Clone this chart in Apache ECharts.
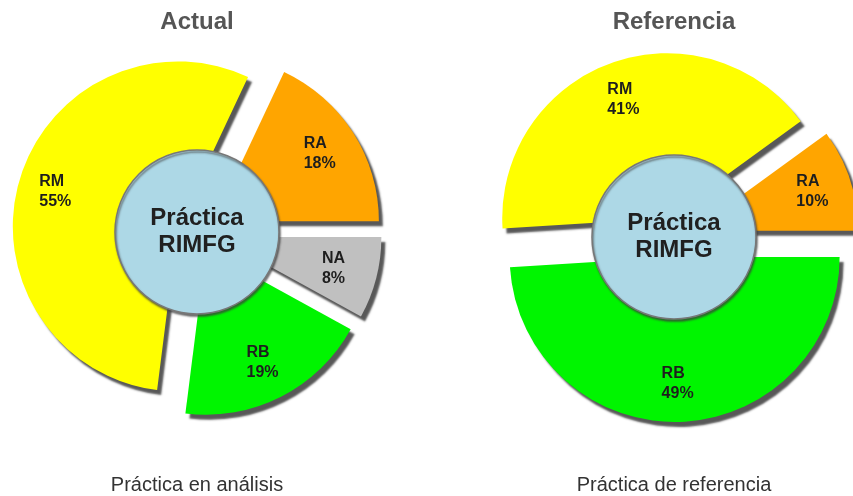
<!DOCTYPE html>
<html>
<head>
<meta charset="utf-8">
<script src="https://cdn.jsdelivr.net/npm/echarts@6/dist/echarts.min.js"></script>
<style>
  html, body { margin: 0; padding: 0; background: #fff; }
  #chart { width: 853px; height: 496px; }
</style>
</head>
<body>
<div id="chart"></div>
<script>
// data
var leftNames = ['RA', 'RM', 'RB', 'NA'];
var leftValues = [18, 55, 19, 8];
var rightNames = ['RA', 'RM', 'RB'];
var rightValues = [10, 41, 49];
var titles = ['Actual', 'Referencia'];
var captions = ['Práctica en análisis', 'Práctica de referencia'];
var centerText = 'Práctica\nRIMFG';

var sliceColors = {
  RA: '#ffa500',
  RM: '#ffff00',
  RB: '#00f500',
  NA: '#c0c0c0'
};

var font = '"Liberation Sans", Arial, sans-serif';

var shapeStyle = {
  borderWidth: 0,
  shadowColor: 'rgba(70, 70, 70, 0.9)',
  shadowBlur: 2,
  shadowOffsetX: 4,
  shadowOffsetY: 5
};

function buildData(names, values, withColor) {
  return names.map(function (n, i) {
    return {
      name: n,
      value: values[i],
      selected: true,
      itemStyle: { color: withColor ? sliceColors[n] : 'transparent' }
    };
  });
}

function pieSeries(names, values, center) {
  // shapes, full wedges
  var shapes = {
    type: 'pie',
    z: 2,
    center: center,
    radius: [0, 165],
    startAngle: 0,
    clockwise: false,
    selectedMode: 'multiple',
    selectedOffset: 20,
    silent: true,
    avoidLabelOverlap: false,
    label: { show: false },
    labelLine: { show: false },
    itemStyle: shapeStyle,
    select: { itemStyle: shapeStyle },
    emphasis: { scale: false },
    data: buildData(names, values, true)
  };
  // light blue disc in the middle
  var disc = {
    type: 'pie',
    z: 5,
    center: center,
    radius: [0, 82],
    silent: true,
    labelLine: { show: false },
    itemStyle: {
      color: '#add8e6',
      borderColor: '#777',
      borderWidth: 1.5,
      shadowColor: 'rgba(60, 60, 60, 0.7)',
      shadowBlur: 2,
      shadowOffsetX: 1,
      shadowOffsetY: 2
    },
    label: {
      show: true,
      position: 'center',
      formatter: centerText,
      fontFamily: font,
      fontSize: 24,
      fontWeight: 'bold',
      lineHeight: 27,
      color: '#202020'
    },
    data: [{ name: 'Práctica RIMFG', value: 1 }]
  };
  // invisible ring only used to place the slice labels
  var labels = {
    type: 'pie',
    z: 8,
    center: center,
    radius: [82, 165],
    startAngle: 0,
    clockwise: false,
    selectedMode: 'multiple',
    selectedOffset: 20,
    silent: true,
    avoidLabelOverlap: false,
    itemStyle: { borderWidth: 0 },
    select: { itemStyle: { borderWidth: 0 } },
    labelLine: { show: false },
    label: {
      show: true,
      position: 'inside',
      formatter: '{t|{b}}\n{t|{c}%}',
      rich: {
        t: {
          width: 34,
          align: 'left',
          fontFamily: font,
          fontSize: 16,
          fontWeight: 'bold',
          lineHeight: 20,
          color: '#1e1e1e'
        }
      }
    },
    data: buildData(names, values, false)
  };
  return [shapes, disc, labels];
}

var chart = echarts.init(document.getElementById('chart'));
var option = {
  animation: false,
  backgroundColor: '#fff',
  title: [
    { text: titles[0], left: 197, top: 10, textAlign: 'center', padding: 0,
      textStyle: { fontFamily: font, fontSize: 24, fontWeight: 'bold', color: '#555' } },
    { text: titles[1], left: 674, top: 10, textAlign: 'center', padding: 0,
      textStyle: { fontFamily: font, fontSize: 24, fontWeight: 'bold', color: '#555' } },
    { text: captions[0], left: 197, top: 475, textAlign: 'center', padding: 0,
      textStyle: { fontFamily: font, fontSize: 20, fontWeight: 'normal', color: '#333' } },
    { text: captions[1], left: 674, top: 475, textAlign: 'center', padding: 0,
      textStyle: { fontFamily: font, fontSize: 20, fontWeight: 'normal', color: '#333' } }
  ],
  series: pieSeries(leftNames, leftValues, [197, 232])
    .concat(pieSeries(rightNames, rightValues, [674, 237]))
};
chart.setOption(option);
</script>
</body>
</html>
